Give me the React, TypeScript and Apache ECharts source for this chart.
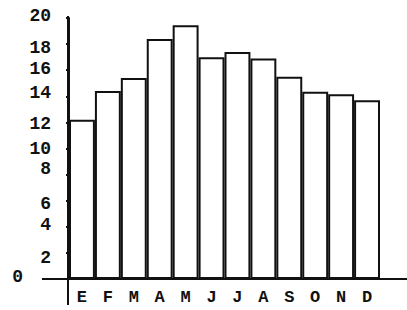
import React, { useEffect, useRef } from "react";
import * as echarts from "echarts";

const months = ["E", "F", "M", "A", "M", "J", "J", "A", "S", "O", "N", "D"];
const values = [12.2, 14.4, 15.4, 18.4, 19.45, 17.0, 17.4, 16.9, 15.5, 14.35, 14.15, 13.7];
const yTicks = [0, 2, 4, 6, 8, 10, 12, 14, 16, 18, 20];

// vertical nudges (px) of the hand-lettered y labels relative to their ticks
const labelShift: Record<number, number> = {
  20: -2, 18: 4, 16: -1, 14: -3, 12: 2, 10: 0, 8: -6, 6: 3, 4: -2, 2: 5, 0: -2,
};

export default function App() {
  const ref = useRef<HTMLDivElement>(null);
  useEffect(() => {
    document.body.style.margin = "0";
    if (!ref.current) return;
    const chart = echarts.init(ref.current, null, { renderer: "svg" });
    const font = "'Liberation Mono', 'DejaVu Sans Mono', monospace";
    const rich: Record<string, any> = {};
    yTicks.forEach((t) => {
      const s = labelShift[t] || 0;
      const right = t === 0 ? 28 : 0;
      rich["v" + t] = {
        fontFamily: font,
        fontWeight: "bold",
        fontSize: 18,
        color: "#111",
        padding: [s > 0 ? 2 * s : 0, right, s < 0 ? -2 * s : 0, 0],
      };
    });
    chart.setOption({
      animation: false,
      backgroundColor: "#fff",
      grid: { left: 69, right: 27, top: 18, bottom: 31, containLabel: false },
      xAxis: {
        type: "category",
        data: months,
        axisLine: { show: true, lineStyle: { color: "#111", width: 2 } },
        axisTick: { show: false },
        axisLabel: {
          fontFamily: font,
          fontWeight: "bold",
          fontSize: 17,
          color: "#111",
          margin: 10,
          interval: 0,
        },
      },
      yAxis: {
        type: "value",
        min: 0,
        max: 20,
        interval: 2,
        splitLine: { show: false },
        axisLine: { show: true, lineStyle: { color: "#111", width: 2 } },
        axisTick: { show: true, length: 3, lineStyle: { color: "#111", width: 2 } },
        axisLabel: {
          margin: 18,
          formatter: (v: number) => `{v${v}|${v}}`,
          rich,
        },
      },
      series: [
        {
          type: "bar",
          data: values,
          barCategoryGap: "0%",
          itemStyle: { color: "#fff", borderColor: "#111", borderWidth: 2 },
        },
      ],
      graphic: [
        { type: "line", shape: { x1: 42, y1: 279, x2: 407, y2: 279 }, style: { stroke: "#111", lineWidth: 2 } },
        { type: "line", shape: { x1: 68, y1: 16, x2: 68, y2: 305 }, style: { stroke: "#111", lineWidth: 2 } },
      ],
    });
    return () => chart.dispose();
  }, []);
  return <div ref={ref} style={{ width: 407, height: 310 }} />;
}
